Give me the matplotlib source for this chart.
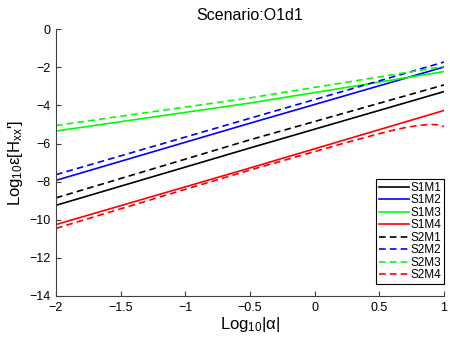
import matplotlib
matplotlib.use("Agg")
import matplotlib.pyplot as plt
import numpy as np

plt.rcParams['font.family'] = ['Liberation Sans', 'DejaVu Sans']
plt.rcParams['mathtext.fontset'] = 'custom'
plt.rcParams['mathtext.rm'] = 'Liberation Sans'
plt.rcParams['mathtext.it'] = 'Liberation Sans'

# Data
x_lin = [-2.0, -0.5, 1.0]
s1m1 = [-9.24, -6.23, -3.27]
s1m2 = [-7.93, -4.93, -1.98]
s1m3 = [-5.34, -3.87, -2.22]
s1m4 = [-10.25, -7.28, -4.26]
s2m1 = [-8.85, -5.80, -2.92]
s2m2 = [-7.63, -4.67, -1.72]
s2m3 = [-5.05, -3.60, -1.95]
x_s2m4 = [-2.0, -1.0, -0.5, 0.0, 0.2, 0.4, 0.5, 0.6, 0.7, 0.8, 0.9, 0.95, 1.0]
s2m4 = [-10.45, -8.40, -7.39, -6.42, -6.03, -5.66, -5.48, -5.31, -5.16, -5.05, -4.99, -5.02, -5.10]

labels = ['S1M1', 'S1M2', 'S1M3', 'S1M4', 'S2M1', 'S2M2', 'S2M3', 'S2M4']
colors = ['#000000', '#0000ff', '#00ff00', '#ff0000']

fig = plt.figure(figsize=(4.5, 3.38), dpi=100)
ax = fig.add_axes([0.1244, 0.1243, 0.8622, 0.789])

lw = 1.2
dash = (0, (4, 2.5))
for ys, c, lab in zip([s1m1, s1m2, s1m3, s1m4], colors, labels[:4]):
    ax.plot(x_lin, ys, color=c, lw=lw, label=lab)
for (xs, ys), c, lab in zip([(x_lin, s2m1), (x_lin, s2m2), (x_lin, s2m3), (x_s2m4, s2m4)], colors, labels[4:]):
    ax.plot(xs, ys, color=c, lw=lw, linestyle=dash, label=lab)

ax.set_xlim(-2, 1)
ax.set_ylim(-14, 0)
ax.set_xticks([-2, -1.5, -1, -0.5, 0, 0.5, 1])
ax.set_xticklabels(['\u22122', '\u22121.5', '\u22121', '\u22120.5', '0', '0.5', '1'])
ax.set_yticks(np.arange(-14, 1, 2))
ax.spines['top'].set_visible(False)
ax.spines['right'].set_visible(False)
for s in ['left', 'bottom']:
    ax.spines[s].set_color('#404040')
    ax.spines[s].set_linewidth(0.8)
ax.tick_params(direction='in', length=3.5, width=0.8, color='#404040', labelsize=9, pad=4)

ax.set_title('Scenario:O1d1', fontsize=11.5, pad=7)
ax.set_xlabel('Log$_{10}$|\u03b1|', fontsize=12, labelpad=1)
ax.set_ylabel("Log$_{10}$\u03b5[H$_{xx}$']", fontsize=12, labelpad=3)

leg = ax.legend(loc='lower right', bbox_to_anchor=(1.0, 0.044), borderaxespad=0,
                fontsize=8.5, handlelength=2.5, handletextpad=0.1, labelspacing=0.04,
                borderpad=0.25, fancybox=False, framealpha=1, edgecolor='black')
leg.get_frame().set_linewidth(0.8)

fig.savefig('out.png', dpi=100)
